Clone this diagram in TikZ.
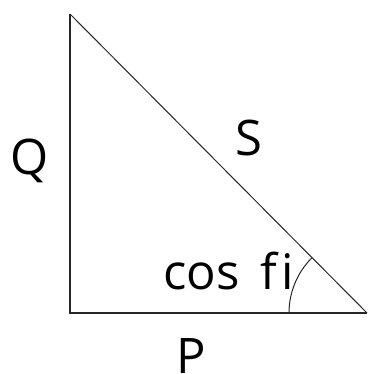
\documentclass[tikz,border=0pt]{standalone}
\usepackage{fontspec}
\setmainfont{Open Sans}[Ligatures=NoCommon]
\tikzset{
  lbl/.style={inner sep=0pt, anchor=base west, font=\fontsize{49}{56}\selectfont},
  side/.style={line width=1.4pt, black!85},
}
\begin{document}
\begin{tikzpicture}[x=1pt,y=-1pt]
\useasboundingbox (0,0) rectangle (369,374);
\coordinate (A) at (70,14);
\coordinate (B) at (70,313);
\coordinate (C) at (367,313);
\draw[side] (A) -- (B) -- (C);
\draw[line width=1pt, black!85] (A) -- (C);
\draw[line width=1pt, black!85] (C) ++(-78,0) arc[start angle=180, end angle=225, radius=78];
\node[lbl] (q) at (10,174) {Q};
\node[lbl] (s) at (235,155) {S};
\node[lbl] (cf) at (163,289) {cos\hspace{21pt}f\kern4pt i};
\node[lbl] (p) at (176,373) {P};
\end{tikzpicture}
\end{document}
